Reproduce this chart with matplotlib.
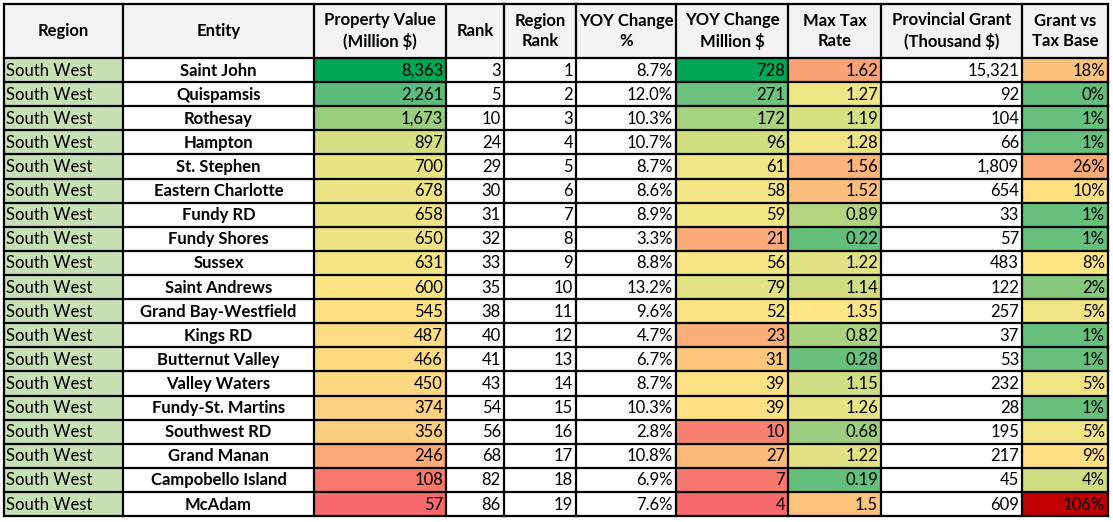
import matplotlib
matplotlib.use("Agg")
import matplotlib.pyplot as plt
from matplotlib.patches import Rectangle

# table data
headers = ["Region", "Entity", "Property Value\n(Million $)", "Rank", "Region\nRank",
           "YOY Change\n%", "YOY Change\nMillion $", "Max Tax\nRate",
           "Provincial Grant\n(Thousand $)", "Grant vs\nTax Base"]
regions = ["South West"] * 19
entities = ["Saint John", "Quispamsis", "Rothesay", "Hampton", "St. Stephen",
            "Eastern Charlotte", "Fundy RD", "Fundy Shores", "Sussex", "Saint Andrews",
            "Grand Bay-Westfield", "Kings RD", "Butternut Valley", "Valley Waters",
            "Fundy-St. Martins", "Southwest RD", "Grand Manan", "Campobello Island", "McAdam"]
property_value = [8363, 2261, 1673, 897, 700, 678, 658, 650, 631, 600,
                  545, 487, 466, 450, 374, 356, 246, 108, 57]
rank = [3, 5, 10, 24, 29, 30, 31, 32, 33, 35, 38, 40, 41, 43, 54, 56, 68, 82, 86]
region_rank = [1, 2, 3, 4, 5, 6, 7, 8, 9, 10, 11, 12, 13, 14, 15, 16, 17, 18, 19]
yoy_pct = [8.7, 12.0, 10.3, 10.7, 8.7, 8.6, 8.9, 3.3, 8.8, 13.2,
           9.6, 4.7, 6.7, 8.7, 10.3, 2.8, 10.8, 6.9, 7.6]
yoy_million = [728, 271, 172, 96, 61, 58, 59, 21, 56, 79,
               52, 23, 31, 39, 39, 10, 27, 7, 4]
max_tax_rate = [1.62, 1.27, 1.19, 1.28, 1.56, 1.52, 0.89, 0.22, 1.22, 1.14,
                1.35, 0.82, 0.28, 1.15, 1.26, 0.68, 1.22, 0.19, 1.5]
provincial_grant = [15321, 92, 104, 66, 1809, 654, 33, 57, 483, 122,
                    257, 37, 53, 232, 28, 195, 217, 45, 609]
grant_vs_base = [18, 0, 1, 1, 26, 10, 1, 1, 8, 2, 5, 1, 1, 5, 1, 5, 9, 4, 106]

# conditional-format fills as they appear in the sheet
fill_property = ["#00A651", "#5DBB7D", "#9ACD7E", "#D3DF80", "#E8E283", "#EBE384",
                 "#EDE384", "#EEE384", "#F3E483", "#FBE583", "#FEE182", "#FEDC81",
                 "#FEDB81", "#FED981", "#FDD17F", "#FDCE7E", "#FBAA77", "#F8786D", "#F8696B"]
fill_yoy_million = ["#00A651", "#6CC17D", "#A6D17F", "#D0DE80", "#F0E584", "#F3E584",
                    "#F2E584", "#FBAA77", "#F5E584", "#E1E282", "#F8E584", "#FBAD78",
                    "#FDC67D", "#FEE182", "#FEE182", "#F8826F", "#FCB97A", "#F8766D", "#F8696B"]
fill_tax = ["#FBA376", "#EEE584", "#D5E081", "#EFE383", "#FBB479", "#FCBE7B", "#B4D580",
            "#63BE7B", "#E0E282", "#CDDD80", "#FCE683", "#AAD27F", "#69C07C", "#CEDE80",
            "#E7E483", "#9CCD7E", "#E0E282", "#63BE7B", "#FCC37C"]
fill_grant = ["#FCC27C", "#63BE7B", "#67BF7C", "#67BF7C", "#FBAA77", "#FEE082", "#67BF7C",
              "#67BF7C", "#FEE683", "#85C77D", "#F0E383", "#67BF7C", "#67BF7C", "#F0E383",
              "#67BF7C", "#F0E383", "#FEDF82", "#CDDC80", "#C00000"]

col_edges = [4, 123, 314, 446, 504, 576, 676, 788, 881, 1022, 1108]
header_top, header_bottom, row_h = 4, 58, 24.11

plt.rcParams["font.family"] = ["Lato", "DejaVu Sans"]
fig = plt.figure(figsize=(11.13, 5.22), dpi=100)
ax = fig.add_axes([0, 0, 1, 1])
ax.set_xlim(0, 1113)
ax.set_ylim(522, 0)
ax.axis("off")

columns = [
    regions,
    entities,
    [f"{v:,}" for v in property_value],
    [str(v) for v in rank],
    [str(v) for v in region_rank],
    [f"{v:.1f}%" for v in yoy_pct],
    [str(v) for v in yoy_million],
    [f"{v:g}" for v in max_tax_rate],
    [f"{v:,}" for v in provincial_grant],
    [f"{v}%" for v in grant_vs_base],
]
fills = {0: ["#C6E0B4"] * 19, 2: fill_property, 6: fill_yoy_million,
         7: fill_tax, 9: fill_grant}

fs = 12
# header
for c, h in enumerate(headers):
    x0, x1 = col_edges[c], col_edges[c + 1]
    ax.add_patch(Rectangle((x0, header_top), x1 - x0, header_bottom - header_top,
                           facecolor="#F2F2F2", edgecolor="none"))
    ax.text((x0 + x1) / 2, (header_top + header_bottom) / 2, h, ha="center", va="center",
            fontsize=fs, fontweight="bold", linespacing=1.3)

for r in range(19):
    y0 = header_bottom + r * row_h
    yc = y0 + row_h / 2 + 0.5
    for c in range(10):
        x0, x1 = col_edges[c], col_edges[c + 1]
        fc = fills[c][r] if c in fills else "white"
        ax.add_patch(Rectangle((x0, y0), x1 - x0, row_h, facecolor=fc, edgecolor="none"))
        txt = columns[c][r]
        if c == 0:
            ax.text(x0 + 2, yc, txt, ha="left", va="center", fontsize=fs)
        elif c == 1:
            ax.text((x0 + x1) / 2, yc, txt, ha="center", va="center", fontsize=fs,
                    fontweight="bold")
        else:
            ax.text(x1 - 3, yc, txt, ha="right", va="center", fontsize=fs)

# grid lines
bottom = header_bottom + 19 * row_h
lw = 1.6
for x in col_edges:
    ax.plot([x, x], [header_top, bottom], color="black", lw=lw, solid_capstyle="projecting")
ys = [header_top, header_bottom] + [header_bottom + i * row_h for i in range(1, 20)]
for y in ys:
    ax.plot([col_edges[0], col_edges[-1]], [y, y], color="black", lw=lw,
            solid_capstyle="projecting")

fig.savefig("out.png", dpi=100)
